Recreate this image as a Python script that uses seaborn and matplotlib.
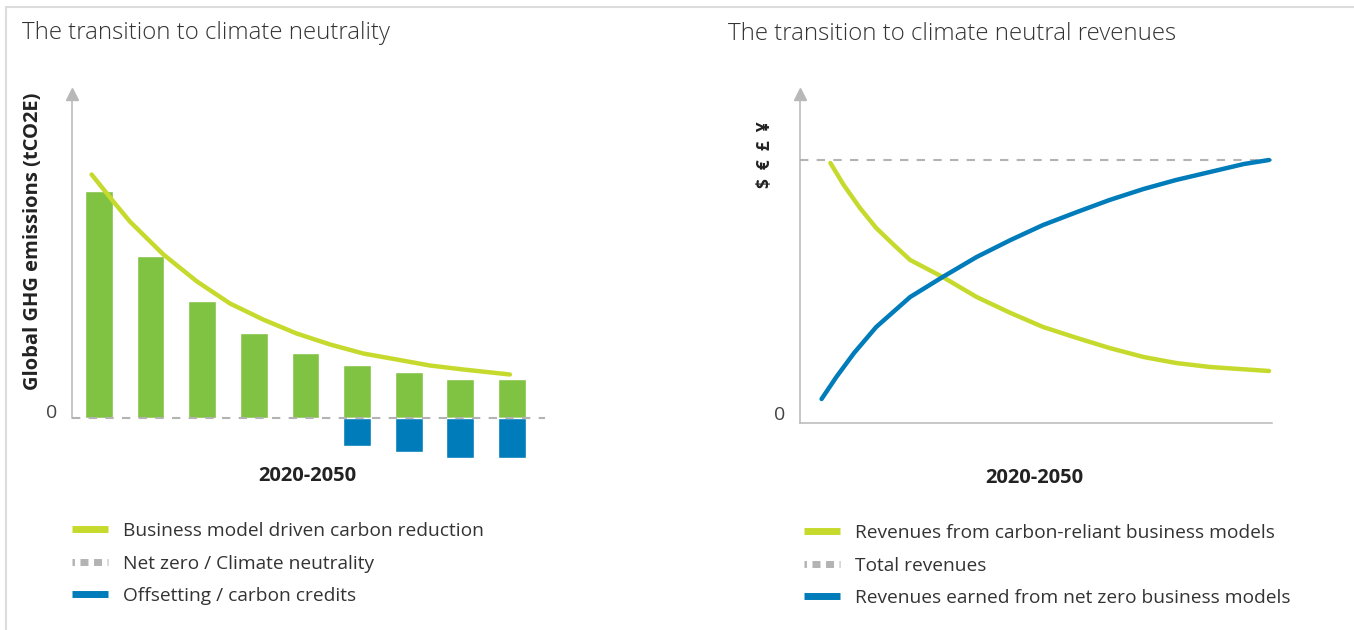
import seaborn as sns
import pandas as pd
import matplotlib.pyplot as plt
from matplotlib.lines import Line2D

# ---- data (arbitrary units) ----
# left chart: emissions per period, offsets and reduction curve
bar_pos = [0, 1, 2, 3, 4, 5, 6, 7, 8]
emissions = [22.65, 16.15, 11.65, 8.45, 6.45, 5.25, 4.55, 3.85, 3.85]
offset_pos = [5, 6, 7, 8]
offsets = [-2.8, -3.4, -4.0, -4.0]
curve_pos = [-0.14, 0.28, 0.6, 1.25, 1.9, 2.54, 3.18, 3.83, 4.48, 5.12, 5.77, 6.41, 7.06, 7.96]
curve_vals = [24.3, 21.6, 19.6, 16.3, 13.6, 11.4, 9.8, 8.4, 7.3, 6.4, 5.8, 5.2, 4.8, 4.3]

# right chart: revenues
green_years = [2020.3, 2021.2, 2022.3, 2023.4, 2024.6, 2025.7, 2027.9, 2030.2, 2032.5,
               2034.7, 2037.0, 2039.2, 2041.5, 2043.7, 2046.0, 2050.0]
green_vals = [26.0, 23.8, 21.5, 19.5, 17.8, 16.3, 14.6, 12.6, 11.0, 9.6, 8.5, 7.5, 6.6, 6.0,
              5.6, 5.2]
blue_years = [2019.7, 2020.7, 2021.9, 2023.4, 2025.7, 2027.9, 2030.2, 2032.5, 2034.7, 2037.0,
              2039.2, 2041.5, 2043.7, 2046.0, 2048.3, 2050.0]
blue_vals = [2.4, 4.6, 7.0, 9.6, 12.6, 14.6, 16.6, 18.3, 19.8, 21.1, 22.3, 23.4, 24.3, 25.1,
             25.9, 26.3]
total_revenue = 26.3

left_legend = ["Business model driven carbon reduction", "Net zero / Climate neutrality",
               "Offsetting / carbon credits"]
right_legend = ["Revenues from carbon-reliant business models", "Total revenues",
                "Revenues earned from net zero business models"]

# colours
BAR_GREEN = "#80c242"
LIME = "#c6da2e"
BLUE = "#007cba"
DASH_GRAY = "#b3b3b3"
AXIS_GRAY = "#b8b8b8"
TEXT = "#333333"

sns.set_style("white")
plt.rcParams["font.family"] = ["Open Sans", "DejaVu Sans"]

W, H = 1354, 630
fig = plt.figure(figsize=(W / 100, H / 100), dpi=100)


def fx(px):
    return px / W


def fy(py):
    return 1 - py / H


# ---------------- left chart ----------------
ax1 = fig.add_axes([fx(72), fy(465), fx(545 - 72), (465 - 88) / H])
sns.barplot(x=bar_pos, y=emissions, native_scale=True, width=0.536, color=BAR_GREEN,
            saturation=1, errorbar=None, ax=ax1, zorder=2)
sns.barplot(x=offset_pos, y=offsets, native_scale=True, width=0.536, color=BLUE,
            saturation=1, errorbar=None, ax=ax1, zorder=2)
sns.lineplot(x=curve_pos, y=curve_vals, color=LIME, linewidth=3.2, ax=ax1, zorder=4)
ax1.axhline(0, color=DASH_GRAY, lw=1.5, dashes=(4, 4), zorder=3)
ax1.set_xlim(-0.52, 8.64)
ax1.set_ylim(-4.75, 32.95)

# ---------------- right chart ----------------
ax2 = fig.add_axes([fx(800), fy(423), fx(1272 - 800), (423 - 88) / H])
sns.lineplot(x=green_years, y=green_vals, color=LIME, linewidth=3.2, ax=ax2, zorder=4)
sns.lineplot(x=blue_years, y=blue_vals, color=BLUE, linewidth=3.2, ax=ax2, zorder=4)
ax2.axhline(total_revenue, color=DASH_GRAY, lw=1.5, dashes=(4, 4), zorder=3)
ax2.set_xlim(2018.24, 2050.2)
ax2.set_ylim(0, 33.5)

for ax, top in [(ax1, 32.95), (ax2, 33.5)]:
    sns.despine(ax=ax, top=True, right=True, bottom=True)
    ax.spines["left"].set_color(AXIS_GRAY)
    ax.spines["left"].set_linewidth(1.1)
    ax.spines["left"].set_bounds(0, top - 0.6)
    ax.plot([ax.get_xlim()[0]], [top - 0.6], marker="^", ms=9, color=AXIS_GRAY,
            clip_on=False, zorder=5)
    ax.set_xticks([])
    ax.set_yticks([])
    ax.set_xlabel("")
    ax.set_ylabel("")
    ax.patch.set_alpha(0)

ax2.spines["bottom"].set_visible(True)
ax2.spines["bottom"].set_color(AXIS_GRAY)
ax2.spines["bottom"].set_linewidth(1.1)

# ---------------- texts ----------------
fig.text(fx(22), fy(33), "The transition to climate neutrality", fontsize=17.3,
         fontweight="light", color=TEXT, ha="left", va="center")
fig.text(fx(728), fy(34), "The transition to climate neutral revenues", fontsize=17.3,
         fontweight="light", color=TEXT, ha="left", va="center")
fig.text(fx(52), fy(413), "0", fontsize=14, color="#444444", ha="center", va="center")
fig.text(fx(780), fy(415), "0", fontsize=14, color="#444444", ha="center", va="center")
fig.text(fx(33), fy(241), "Global GHG emissions (tCO2E)", fontsize=14.5, fontweight="bold",
         color="#222222", rotation=90, ha="center", va="center")
fig.text(fx(765), fy(155), "$  €  £  ¥", fontsize=12.5, fontweight="bold",
         color="#222222", rotation=90, ha="center", va="center")
fig.text(fx(307), fy(476), "2020-2050", fontsize=14.5, fontweight="bold",
         color="#222222", ha="center", va="center")
fig.text(fx(1034), fy(478), "2020-2050", fontsize=14.5, fontweight="bold",
         color="#222222", ha="center", va="center")

# ---------------- legends ----------------
def legend_handles(first, third):
    return [
        Line2D([], [], color=first, lw=5, solid_capstyle="butt"),
        Line2D([], [], color=DASH_GRAY, lw=5, linestyle=(0.8, (1.15, 0.8))),
        Line2D([], [], color=third, lw=5, solid_capstyle="butt"),
    ]


for labels, x0, y0 in [(left_legend, 72, 522), (right_legend, 804, 524)]:
    fig.legend(legend_handles(LIME, BLUE), labels, loc="upper left",
               bbox_to_anchor=(fx(x0), fy(y0)), frameon=False, fontsize=13.8,
               handlelength=1.88, handletextpad=0.78, labelspacing=0.76,
               borderpad=0, borderaxespad=0, labelcolor=TEXT)

# light frame at top and left
fig.add_artist(Line2D([fx(6), fx(6)], [0, fy(7)], color="#dcdcdc", lw=1.5))
fig.add_artist(Line2D([fx(6), 1], [fy(7), fy(7)], color="#dcdcdc", lw=1.5))

fig.savefig("out.png", dpi=100)
